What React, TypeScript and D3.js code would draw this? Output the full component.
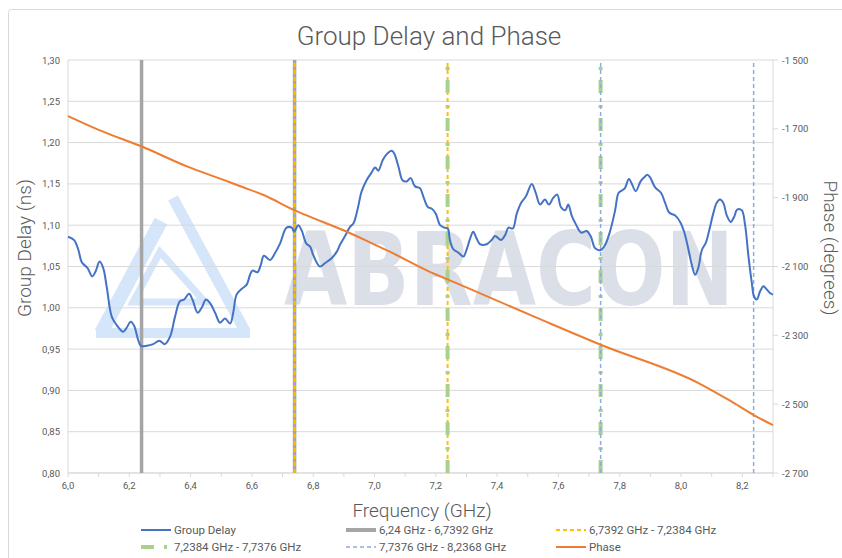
import React from 'react';
import * as d3 from 'd3';

// ---------- data ----------
const freq = [
  6.000, 6.020, 6.034, 6.045, 6.064, 6.079, 6.090, 6.103, 6.115, 6.126, 6.143, 6.159, 6.180, 6.190,
  6.205, 6.216, 6.229, 6.238, 6.257, 6.278, 6.298, 6.316, 6.333, 6.349, 6.365, 6.379, 6.395, 6.406,
  6.423, 6.436, 6.450, 6.463, 6.480, 6.496, 6.512, 6.529, 6.539, 6.550, 6.567, 6.583, 6.594, 6.602,
  6.618, 6.629, 6.639, 6.659, 6.675, 6.692, 6.713, 6.730, 6.738, 6.751, 6.762, 6.777, 6.790, 6.800,
  6.822, 6.838, 6.860, 6.877, 6.887, 6.907, 6.920, 6.931, 6.944, 6.958, 6.975, 6.989, 7.002, 7.012,
  7.027, 7.040, 7.056, 7.064, 7.078, 7.092, 7.105, 7.118, 7.132, 7.148, 7.159, 7.174, 7.187, 7.200,
  7.214, 7.228, 7.239, 7.246, 7.257, 7.273, 7.290, 7.300, 7.312, 7.322, 7.333, 7.344, 7.366, 7.382,
  7.393, 7.413, 7.426, 7.437, 7.451, 7.464, 7.478, 7.494, 7.513, 7.526, 7.540, 7.556, 7.569, 7.583,
  7.596, 7.608, 7.622, 7.632, 7.643, 7.657, 7.674, 7.692, 7.706, 7.720, 7.738, 7.752, 7.768, 7.785,
  7.796, 7.807, 7.817, 7.830, 7.843, 7.852, 7.868, 7.880, 7.890, 7.899, 7.915, 7.935, 7.948, 7.962,
  7.980, 7.997, 8.010, 8.024, 8.035, 8.046, 8.056, 8.068, 8.081, 8.092, 8.105, 8.116, 8.127, 8.138,
  8.149, 8.162, 8.173, 8.183, 8.198, 8.209, 8.220, 8.231, 8.238, 8.247, 8.258, 8.269, 8.280, 8.290,
  8.300,
];
const groupDelay = [
  1.086, 1.082, 1.070, 1.055, 1.048, 1.038, 1.044, 1.056, 1.048, 1.026, 0.989, 0.979, 0.971, 0.975,
  0.983, 0.978, 0.961, 0.954, 0.954, 0.956, 0.960, 0.956, 0.965, 0.989, 1.008, 1.010, 1.017, 1.010,
  0.994, 1.000, 1.010, 1.006, 0.994, 0.982, 0.987, 0.981, 0.994, 1.016, 1.023, 1.028, 1.040, 1.045,
  1.043, 1.052, 1.063, 1.058, 1.066, 1.078, 1.097, 1.097, 1.092, 1.100, 1.094, 1.078, 1.074, 1.064,
  1.050, 1.054, 1.060, 1.068, 1.076, 1.089, 1.098, 1.102, 1.118, 1.141, 1.155, 1.163, 1.170, 1.166,
  1.179, 1.186, 1.190, 1.187, 1.171, 1.154, 1.153, 1.157, 1.147, 1.145, 1.135, 1.122, 1.120, 1.114,
  1.100, 1.097, 1.096, 1.082, 1.071, 1.067, 1.062, 1.070, 1.084, 1.092, 1.084, 1.077, 1.077, 1.082,
  1.087, 1.082, 1.088, 1.097, 1.096, 1.114, 1.127, 1.135, 1.150, 1.139, 1.125, 1.131, 1.125, 1.133,
  1.137, 1.122, 1.118, 1.125, 1.112, 1.101, 1.091, 1.093, 1.086, 1.072, 1.070, 1.076, 1.092, 1.118,
  1.139, 1.142, 1.145, 1.156, 1.147, 1.141, 1.153, 1.158, 1.161, 1.158, 1.146, 1.139, 1.127, 1.115,
  1.112, 1.104, 1.092, 1.071, 1.052, 1.040, 1.048, 1.070, 1.079, 1.094, 1.114, 1.127, 1.131, 1.127,
  1.112, 1.104, 1.110, 1.119, 1.118, 1.100, 1.062, 1.030, 1.014, 1.010, 1.020, 1.026, 1.022, 1.018,
  1.016,
];
const phaseFreq = [6.00, 6.10, 6.25, 6.39, 6.51, 6.56, 6.64, 6.74, 6.83, 6.91, 6.99, 7.05, 7.17, 7.24, 7.54, 7.74, 8.06, 8.16, 8.24, 8.30];
const phaseDeg = [-1663, -1703, -1755, -1810, -1849, -1866, -1893, -1937, -1970, -1999, -2032, -2057, -2111, -2138, -2253, -2328, -2440, -2490, -2533, -2561];

const gdTicks = [0.8, 0.85, 0.9, 0.95, 1.0, 1.05, 1.1, 1.15, 1.2, 1.25, 1.3];
const phaseTicks = [-2700, -2500, -2300, -2100, -1900, -1700, -1500];
const freqTicks = [6.0, 6.2, 6.4, 6.6, 6.8, 7.0, 7.2, 7.4, 7.6, 7.8, 8.0, 8.2];

const bandEdges = [
  [6.24, 6.7392],
  [6.7392, 7.2384],
  [7.2384, 7.7376],
  [7.7376, 8.2368],
];
const bandLabels = [
  '6,24 GHz - 6,7392 GHz',
  '6,7392 GHz - 7,2384 GHz',
  '7,2384 GHz - 7,7376 GHz',
  '7,7376 GHz - 8,2368 GHz',
];

const bandStyles = [
  { color: '#a5a5a5', width: 3.5, dash: 'none' },
  { color: '#ffc000', width: 2, dash: '4 3' },
  { color: '#a9d18e', width: 4, dash: '13 10 3 12' },
  { color: '#8faadc', width: 1.5, dash: '4 3' },
];

const FONT = "Roboto, 'Open Sans', 'DejaVu Sans', sans-serif";
const TXT = '#595959';

export default function App() {
  const W = 842;
  const H = 558;
  const L = 68, R = 773, T = 60, B = 473;

  const x = d3.scaleLinear().domain([6, 8.3]).range([L, R]);
  const yL = d3.scaleLinear().domain([0.8, 1.3]).range([B, T]);
  const yR = d3.scaleLinear().domain([-2700, -1500]).range([B, T]);

  const loc = d3.formatLocale({ decimal: ',', thousands: ' ', grouping: [3], currency: ['', ''], minus: '-' });
  const fL = loc.format('.2f');
  const fR = loc.format(',.0f');
  const fX = loc.format('.1f');

  const gdPath = d3
    .line<number>()
    .x((_, i) => x(freq[i]))
    .y((d) => yL(d))
    .curve(d3.curveCatmullRom.alpha(0.5))(groupDelay) as string;

  const phPath = d3
    .line<number>()
    .x((_, i) => x(phaseFreq[i]))
    .y((d) => yR(d))
    .curve(d3.curveMonotoneX)(phaseDeg) as string;

  const minorTicks = x.ticks(23);

  const legend = [
    { label: 'Group Delay', color: '#4472c4', width: 2, dash: 'none' },
    { label: bandLabels[0], ...bandStyles[0], width: 4 },
    { label: bandLabels[1], ...bandStyles[1] },
    { label: bandLabels[2], ...bandStyles[2] },
    { label: bandLabels[3], ...bandStyles[3] },
    { label: 'Phase', color: '#ed7d31', width: 2, dash: 'none' },
  ];
  const legCols = [141, 346, 556];
  const legRows = [534, 551];

  return (
    <svg
      width={W}
      height={H}
      style={{ position: 'absolute', left: 0, top: 0, background: '#fff' }}
      fontFamily={FONT}
    >
      <rect x={0} y={0} width={W} height={H} fill="#fff" />
      <rect x={8.5} y={9.5} width={W} height={H} rx={3} fill="#fff" stroke="#d9d9d9" />

      {/* watermark */}
      <g opacity={0.95}>
        <g fill="none" stroke="#d3e4fa" strokeLinejoin="miter">
          <line x1={173} y1={198} x2={246} y2={333} strokeWidth={11} />
          <line x1={161} y1={221} x2={101} y2={333} strokeWidth={14} />
          <line x1={96} y1={333} x2={250} y2={333} strokeWidth={10} />
          <path d="M160,252 L133,302 L205,302 Z" strokeWidth={7} />
        </g>
        <text
          x={284}
          y={305}
          fontFamily="'DejaVu Sans', sans-serif"
          fontWeight={700}
          fontSize={102}
          fill="#d9dee7"
          textLength={450}
          lengthAdjust="spacingAndGlyphs"
        >
          ABRACON
        </text>
      </g>

      {/* gridlines */}
      {gdTicks.map((t) => (
        <line key={'g' + t} x1={L} x2={R} y1={yL(t)} y2={yL(t)} stroke="#d9d9d9" strokeWidth={1} />
      ))}
      {/* axis lines */}
      <line x1={L} x2={L} y1={T} y2={B} stroke="#d9d9d9" />
      <line x1={R} x2={R} y1={T} y2={B} stroke="#d9d9d9" />
      <line x1={L} x2={R} y1={B} y2={B} stroke="#d9d9d9" />
      {minorTicks.map((t) => (
        <line key={'mt' + t} x1={x(t)} x2={x(t)} y1={B} y2={B + 4} stroke="#d9d9d9" />
      ))}
      {phaseTicks.map((t) => (
        <line key={'rt' + t} x1={R} x2={R + 5} y1={yR(t)} y2={yR(t)} stroke="#d9d9d9" />
      ))}

      {/* range marker lines */}
      {bandEdges.map((edges, bi) => (
        <g key={'b' + bi}>
          {edges.map((f) => (
            <line
              key={f}
              x1={x(f)}
              x2={x(f)}
              y1={yL(0.8)}
              y2={yL(1.3)}
              stroke={bandStyles[bi].color}
              strokeWidth={bandStyles[bi].width}
              strokeDasharray={bandStyles[bi].dash}
            />
          ))}
        </g>
      ))}

      {/* series */}
      <path d={gdPath} fill="none" stroke="#4472c4" strokeWidth={2} strokeLinejoin="round" />
      <path d={phPath} fill="none" stroke="#ed7d31" strokeWidth={2} strokeLinejoin="round" />

      {/* tick labels */}
      {gdTicks.map((t) => (
        <text key={'lt' + t} x={60} y={yL(t) + 3.5} textAnchor="end" fontSize={9.5} fill={TXT}>
          {fL(t)}
        </text>
      ))}
      {phaseTicks.map((t) => (
        <text key={'rl' + t} x={782} y={yR(t) + 3.5} textAnchor="start" fontSize={9.5} fill={TXT}>
          {fR(t)}
        </text>
      ))}
      {freqTicks.map((t) => (
        <text key={'xl' + t} x={x(t)} y={489} textAnchor="middle" fontSize={9.5} fill={TXT}>
          {fX(t)}
        </text>
      ))}

      {/* titles */}
      <text x={429} y={45} textAnchor="middle" fontSize={26} fontWeight={300} fill={TXT}>
        Group Delay and Phase
      </text>
      <text x={422} y={517} textAnchor="middle" fontSize={19} fontWeight={300} fill={TXT}>
        Frequency (GHz)
      </text>
      <text
        transform="translate(31,248) rotate(-90)"
        textAnchor="middle"
        fontSize={19}
        fontWeight={300}
        fill={TXT}
      >
        Group Delay (ns)
      </text>
      <text
        transform="translate(824,248) rotate(90)"
        textAnchor="middle"
        fontSize={19}
        fontWeight={300}
        fill={TXT}
      >
        Phase (degrees)
      </text>

      {/* legend */}
      {legend.map((it, i) => {
        const cx = legCols[i % 3];
        const cy = legRows[Math.floor(i / 3)];
        return (
          <g key={'lg' + i}>
            <line
              x1={cx}
              x2={cx + 30}
              y1={cy - 4}
              y2={cy - 4}
              stroke={it.color}
              strokeWidth={it.width}
              strokeDasharray={it.dash}
            />
            <text x={cx + 33} y={cy} fontSize={11.5} fill={TXT}>
              {it.label}
            </text>
          </g>
        );
      })}
    </svg>
  );
}
